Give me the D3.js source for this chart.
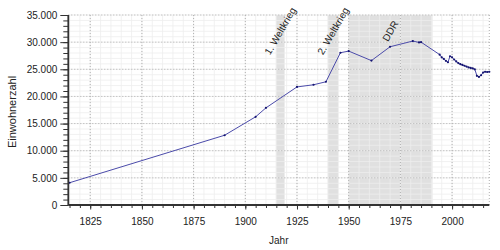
<!DOCTYPE html>
<html>
<head>
<meta charset="utf-8">
<script src="https://cdn.jsdelivr.net/npm/d3@7"></script>
<style>
  body { margin: 0; background: #fff; }
  text { font-family: "Liberation Sans", Arial, sans-serif; }
</style>
</head>
<body>
<svg id="chart" width="500" height="250"></svg>
<script>
// population by year
const years = [1815, 1890, 1905, 1910, 1925, 1933, 1939, 1946, 1950, 1961, 1970, 1981, 1984, 1985,
               1994, 1995, 1996, 1997, 1998, 1999, 2000, 2001, 2002, 2003, 2004, 2005, 2006, 2007,
               2008, 2009, 2010, 2011, 2012, 2013, 2014, 2015, 2016, 2017, 2018];
const population = [4100, 12850, 16250, 17900, 21750, 22150, 22700, 28050, 28350, 26600, 29150, 30200, 29950, 30000,
                    27700, 27200, 26900, 26550, 26300, 27400, 27200, 26800, 26450, 26150, 25950, 25800, 25650, 25500,
                    25350, 25250, 25150, 25000, 23800, 23600, 23900, 24400, 24550, 24500, 24550];

const periodNames = ['1. Weltkrieg', '2. Weltkrieg', 'DDR'];
const periodStart = [1914.8, 1939.9, 1949.8];
const periodEnd = [1919, 1945, 1990.5];

const xTicks = [1825, 1850, 1875, 1900, 1925, 1950, 1975, 2000];
const yTicks = [0, 5000, 10000, 15000, 20000, 25000, 30000, 35000];

const margin = {top: 15, right: 10.7, bottom: 45, left: 68.3},
      W = 500, H = 250,
      pLeft = margin.left, pRight = W - margin.right,
      pTop = margin.top, pBottom = H - margin.bottom;

const x = d3.scaleLinear().domain([1814.4, 2018]).range([pLeft, pRight]);
const y = d3.scaleLinear().domain([0, 35000]).range([pBottom, pTop]);

const de = d3.formatLocale({decimal: ',', thousands: '.', grouping: [3], currency: ['', '€']});
const fmt = de.format(',');

const svg = d3.select('#chart');

// shaded periods
svg.append('g').selectAll('rect')
  .data(periodNames)
  .enter().append('rect')
    .attr('x', (d, i) => x(periodStart[i]))
    .attr('y', pTop)
    .attr('width', (d, i) => x(periodEnd[i]) - x(periodStart[i]))
    .attr('height', pBottom - pTop)
    .style('fill', '#e0e0e0');

// minor grid
const minorX = d3.range(1815, 2019, 5);
const minorY = d3.range(0, 35001, 1000);
const grid = svg.append('g');
grid.selectAll('line.mx').data(minorX).enter().append('line')
  .attr('x1', d => x(d)).attr('x2', d => x(d))
  .attr('y1', pTop).attr('y2', pBottom)
  .style('stroke', '#eeeeee').style('stroke-width', 0.8);
grid.selectAll('line.my').data(minorY).enter().append('line')
  .attr('x1', pLeft).attr('x2', pRight)
  .attr('y1', d => y(d)).attr('y2', d => y(d))
  .style('stroke', '#eeeeee').style('stroke-width', 0.8);

// major grid (dotted)
grid.selectAll('line.gx').data(xTicks.concat([2018])).enter().append('line')
  .attr('x1', d => x(d)).attr('x2', d => x(d))
  .attr('y1', pTop).attr('y2', pBottom)
  .style('stroke', '#b0b0b0').style('stroke-dasharray', '1,2');
grid.selectAll('line.gy').data(yTicks).enter().append('line')
  .attr('x1', pLeft).attr('x2', pRight)
  .attr('y1', d => y(d)).attr('y2', d => y(d))
  .style('stroke', '#b0b0b0').style('stroke-dasharray', '1,2');

// period labels
svg.append('g').selectAll('text')
  .data(periodNames)
  .enter().append('text')
    .attr('transform', (d, i) => `translate(${x((periodStart[i] + periodEnd[i]) / 2)}, 31) rotate(-60)`)
    .attr('text-anchor', 'middle')
    .attr('dy', '0.35em')
    .style('font-size', '10px')
    .style('fill', '#222')
    .text(d => d);

// population line
const line = d3.line()
  .x(d => x(d))
  .y((d, i) => y(population[i]));

svg.append('path')
  .datum(years)
  .attr('d', line)
  .style('fill', 'none')
  .style('stroke', '#4b4baa')
  .style('stroke-width', 1);

svg.append('g').selectAll('circle')
  .data(years)
  .enter().append('circle')
    .attr('cx', d => x(d))
    .attr('cy', (d, i) => y(population[i]))
    .attr('r', 1.1)
    .style('fill', '#151570');

// axes
const xAxis = svg.append('g')
  .attr('transform', `translate(0, ${pBottom})`)
  .call(d3.axisBottom(x).tickValues(minorX).tickSize(3).tickFormat(''));
xAxis.selectAll('.tick line').style('stroke', '#333');
const xMajor = svg.append('g')
  .attr('transform', `translate(0, ${pBottom})`)
  .call(d3.axisBottom(x).tickValues(xTicks).tickSize(4.5).tickPadding(8).tickFormat(d3.format('d')));
xMajor.select('.domain').remove();
xMajor.selectAll('text').style('font-size', '10px').style('fill', '#222').style('font-family', '"Liberation Sans", Arial, sans-serif');
xMajor.selectAll('.tick line').style('stroke', '#333');
xAxis.select('.domain').style('stroke', '#333').style('stroke-width', 1.8)
  .attr('d', `M${pLeft},0H${pRight}`);

const yAxis = svg.append('g')
  .attr('transform', `translate(${pLeft}, 0)`)
  .call(d3.axisLeft(y).tickValues(minorY).tickSize(5).tickFormat(''));
yAxis.selectAll('.tick line').style('stroke', '#333');
const yMajor = svg.append('g')
  .attr('transform', `translate(${pLeft}, 0)`)
  .call(d3.axisLeft(y).tickValues(yTicks).tickSize(8).tickPadding(3).tickFormat(fmt));
yMajor.select('.domain').remove();
yMajor.selectAll('text').style('font-size', '10px').style('fill', '#222').style('font-family', '"Liberation Sans", Arial, sans-serif');
yMajor.selectAll('.tick line').style('stroke', '#333');
yAxis.select('.domain').style('stroke', '#333').style('stroke-width', 1.8)
  .attr('d', `M0,${pTop}V${pBottom}`);

// axis titles
svg.append('text')
  .attr('x', (pLeft + pRight) / 2)
  .attr('y', 244)
  .attr('text-anchor', 'middle')
  .style('font-size', '10px')
  .style('fill', '#222')
  .text('Jahr');

svg.append('text')
  .attr('transform', `translate(16, ${(pTop + pBottom) / 2 + 2}) rotate(-90)`)
  .attr('text-anchor', 'middle')
  .style('font-size', '11px')
  .style('fill', '#222')
  .text('Einwohnerzahl');
</script>
</body>
</html>
